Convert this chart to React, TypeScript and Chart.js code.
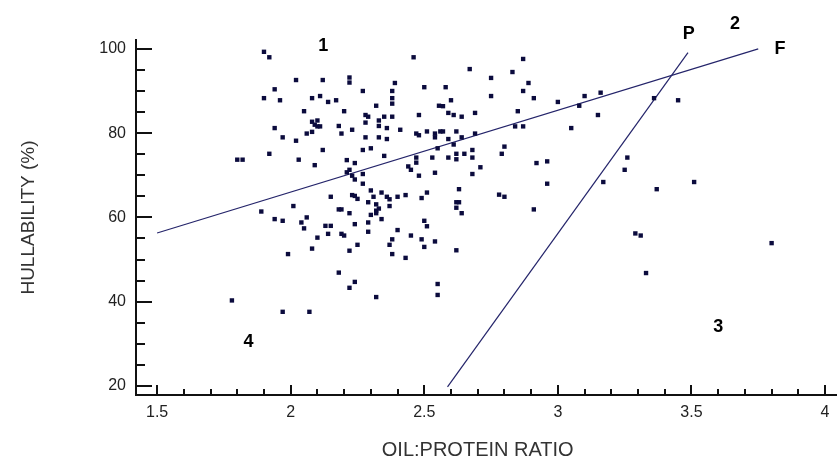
import React, { useEffect, useRef } from "react";
import { Chart, registerables } from "chart.js";

Chart.register(...registerables);

// ---- data ----
const oilProteinRatio: number[] = [
  1.90, 1.92, 2.02, 1.94, 1.90, 1.96, 2.08, 2.11, 2.05, 2.08,
  2.10, 2.09, 2.10, 2.08, 2.11, 1.94, 1.97, 2.06, 2.02, 1.92,
  1.80, 1.82, 2.03, 2.09, 1.89, 2.01, 1.94, 1.97, 2.04, 2.05,
  2.06, 2.10, 1.99, 2.08, 1.78, 1.97, 2.07, 2.46, 2.67, 2.75,
  2.12, 2.22, 2.22, 2.39, 2.27, 2.50, 2.58, 2.38, 2.38, 2.38,
  2.75, 2.14, 2.17, 2.60, 2.32, 2.555, 2.57, 2.20, 2.69, 2.48,
  2.59, 2.61, 2.64, 2.28, 2.29, 2.35, 2.38, 2.28, 2.33, 2.33,
  2.18, 2.19, 2.36, 2.23, 2.41, 2.47, 2.48, 2.51, 2.54, 2.54,
  2.56, 2.57, 2.62, 2.28, 2.33, 2.36, 2.59, 2.64, 2.69, 2.61,
  2.55, 2.12, 2.27, 2.30, 2.68, 2.80, 2.79, 2.35, 2.21, 2.24,
  2.47, 2.53, 2.59, 2.62, 2.62, 2.65, 2.68, 2.44, 2.45, 2.47,
  2.48, 2.54, 2.68, 2.71, 2.21, 2.22, 2.23, 2.24, 2.27, 2.15,
  2.27, 2.23, 2.24, 2.25, 2.30, 2.31, 2.34, 2.36, 2.37, 2.40,
  2.43, 2.29, 2.32, 2.33, 2.32, 2.30, 2.32, 2.34, 2.37, 2.18,
  2.19, 2.22, 2.29, 2.24, 2.13, 2.15, 2.14, 2.19, 2.20, 2.29,
  2.40, 2.51, 2.49, 2.63, 2.62, 2.63, 2.62, 2.64, 2.78, 2.80,
  2.50, 2.51, 2.45, 2.49, 2.54, 2.50, 2.38, 2.37, 2.25, 2.22,
  2.38, 2.43, 2.62, 2.18, 2.24, 2.22, 2.32, 2.55, 2.55,
  2.87, 2.83, 2.89, 2.87, 2.91, 2.85, 2.84, 2.87, 3.00, 3.10,
  3.16, 3.08, 3.15, 3.05, 3.36, 3.45, 2.92, 2.96, 3.26, 3.25,
  2.96, 2.91, 3.17, 3.37, 3.51, 3.29, 3.31, 3.33, 3.80,
];

const hullability: number[] = [
  99.3, 98.0, 92.6, 90.4, 88.3, 87.8, 88.3, 88.8, 85.2, 82.7,
  83.0, 82.0, 81.6, 80.3, 81.6, 81.2, 79.0, 79.9, 78.2, 75.1,
  73.7, 73.7, 73.7, 72.4, 61.4, 62.7, 59.6, 59.2, 58.8, 57.4,
  60.0, 55.2, 51.3, 52.6, 40.3, 37.6, 37.6, 98.0, 95.2, 93.1,
  92.6, 93.2, 92.0, 91.9, 90.0, 90.9, 90.9, 90.0, 88.3, 87.0,
  88.8, 87.4, 87.8, 87.8, 86.5, 86.5, 86.4, 85.2, 84.8, 84.3,
  84.8, 84.3, 83.9, 84.3, 83.9, 83.9, 83.9, 82.5, 83.0, 81.7,
  81.7, 79.9, 81.2, 80.8, 80.8, 79.9, 79.5, 80.4, 79.9, 79.0,
  80.4, 80.4, 80.4, 79.0, 79.0, 78.6, 78.6, 79.0, 79.9, 77.3,
  76.4, 76.0, 76.0, 76.4, 76.0, 76.8, 75.1, 74.6, 73.6, 72.9,
  74.2, 74.2, 74.2, 75.1, 73.8, 75.1, 74.2, 72.1, 71.3, 73.0,
  69.9, 70.6, 70.3, 71.9, 70.7, 71.3, 69.9, 69.0, 70.3, 64.9,
  68.0, 65.3, 65.1, 64.4, 66.4, 64.9, 65.9, 64.9, 64.3, 64.9,
  65.3, 63.6, 63.1, 62.1, 61.6, 60.6, 61.0, 59.6, 62.7, 61.9,
  61.9, 61.0, 58.8, 58.4, 58.0, 58.0, 56.1, 56.1, 55.7, 56.6,
  57.0, 65.9, 64.6, 66.7, 63.6, 63.6, 62.3, 61.0, 65.4, 64.9,
  59.2, 57.9, 55.7, 54.8, 54.3, 53.0, 54.8, 53.5, 53.5, 52.1,
  51.3, 50.4, 52.2, 46.9, 44.7, 43.3, 41.1, 44.2, 41.6,
  97.6, 94.5, 91.9, 90.0, 88.3, 85.2, 81.6, 81.6, 87.4, 88.8,
  89.6, 86.5, 84.3, 81.2, 88.3, 87.8, 72.9, 73.3, 74.2, 71.3,
  68.0, 61.9, 68.4, 66.7, 68.4, 56.2, 55.7, 46.8, 53.9,
];

// boundary lines F and P (end points)
const lineFx: number[] = [1.5, 3.75];
const lineFy: number[] = [56.3, 100];
const linePx: number[] = [2.587, 3.487];
const linePy: number[] = [19.8, 99.1];

// region / line labels
const markLabels: string[] = ["1", "2", "3", "4", "P", "F"];
const markLabelX: number[] = [2.122, 3.663, 3.6, 1.842, 3.49, 3.831];
const markLabelY: number[] = [100.7, 105.9, 34.0, 30.4, 103.4, 100.0];

// axes
const xTickValues: number[] = [1.5, 2, 2.5, 3, 3.5, 4];
const yTickValues: number[] = [20, 40, 60, 80, 100];
const xRange: number[] = [1.421, 4.041];
const yRange: number[] = [17.86, 102.1];
const xTitle = "OIL:PROTEIN RATIO";
const yTitle = "HULLABILITY (%)";

const tickFamily = "'Liberation Sans Narrow', 'Arial Narrow', 'Liberation Sans', Arial, sans-serif";
const titleFamily = "'Liberation Sans', Arial, sans-serif";

const decorPlugin = {
  id: "axisDecor",
  afterDraw(chart: any) {
    const { ctx, chartArea } = chart;
    const xs = chart.scales.x;
    const ys = chart.scales.y;
    const { left, bottom } = chartArea;
    ctx.save();
    ctx.strokeStyle = "#111";
    ctx.lineWidth = 2;
    ctx.beginPath();
    // y ticks: major every 20, minor every 5, pointing inward
    for (let i = 4; i <= 20; i++) {
      const v = i * 5;
      const p = Math.round(ys.getPixelForValue(v));
      const len = v % 20 === 0 ? 16 : 9;
      ctx.moveTo(left, p);
      ctx.lineTo(left + len, p);
    }
    // x ticks: major every 0.5, minor every 0.1
    for (let i = 15; i <= 40; i++) {
      const v = i / 10;
      const p = Math.round(xs.getPixelForValue(v));
      const len = i % 5 === 0 ? 10 : 6;
      ctx.moveTo(p, bottom);
      ctx.lineTo(p, bottom - len);
    }
    ctx.stroke();

    // x axis title, centred where the reference puts it
    ctx.font = "20px " + titleFamily;
    ctx.fillStyle = "#333";
    ctx.textAlign = "center";
    ctx.textBaseline = "middle";
    ctx.fillText(xTitle, xs.getPixelForValue(2.70), 450);

    ctx.font = "bold 18px 'Liberation Sans', Arial, sans-serif";
    ctx.fillStyle = "#000";
    markLabels.forEach((t, i) => {
      ctx.fillText(t, xs.getPixelForValue(markLabelX[i]), ys.getPixelForValue(markLabelY[i]));
    });
    ctx.restore();
  },
};

export default function App() {
  const canvasRef = useRef<HTMLCanvasElement | null>(null);

  useEffect(() => {
    if (!canvasRef.current) return;
    const points = oilProteinRatio.map((x, i) => ({ x, y: hullability[i] }));
    const fLine = lineFx.map((x, i) => ({ x, y: lineFy[i] }));
    const pLine = linePx.map((x, i) => ({ x, y: linePy[i] }));

    const chart = new Chart(canvasRef.current, {
      type: "scatter",
      data: {
        datasets: [
          {
            label: "samples",
            data: points,
            pointStyle: "rect",
            pointRadius: 3.1,
            pointBorderWidth: 0,
            borderWidth: 0,
            backgroundColor: "#0b0b3d",
            borderColor: "#0b0b3d",
          },
          {
            label: "F",
            data: fLine,
            showLine: true,
            pointRadius: 0,
            borderColor: "#24246a",
            borderWidth: 1.2,
          },
          {
            label: "P",
            data: pLine,
            showLine: true,
            pointRadius: 0,
            borderColor: "#24246a",
            borderWidth: 1.2,
          },
        ],
      } as any,
      options: {
        animation: false,
        responsive: false,
        events: [],
        layout: { padding: { top: 40, right: 4, left: 0, bottom: 0 } },
        plugins: {
          legend: { display: false },
          tooltip: { enabled: false },
        },
        scales: {
          x: {
            type: "linear",
            position: "bottom",
            min: xRange[0],
            max: xRange[1],
            afterBuildTicks: (s: any) => {
              s.ticks = xTickValues.map((v) => ({ value: v }));
            },
            afterFit: (s: any) => {
              s.height = 73;
            },
            grid: { display: false, drawTicks: false },
            border: { display: true, color: "#111", width: 2 },
            ticks: {
              autoSkip: false,
              maxRotation: 0,
              padding: 8,
              color: "#222",
              font: { family: tickFamily, size: 16 },
              callback: (v: any) => String(v),
            },
            title: { display: false, text: xTitle },
          },
          y: {
            type: "linear",
            position: "left",
            min: yRange[0],
            max: yRange[1],
            afterBuildTicks: (s: any) => {
              s.ticks = yTickValues.map((v) => ({ value: v }));
            },
            afterFit: (s: any) => {
              s.width = 136;
            },
            grid: { display: false, drawTicks: false },
            border: { display: true, color: "#111", width: 2 },
            ticks: {
              autoSkip: false,
              padding: 10,
              color: "#222",
              font: { family: tickFamily, size: 16 },
              callback: (v: any) => String(v),
            },
            title: {
              display: true,
              text: yTitle,
              color: "#333",
              font: { family: titleFamily, size: 19 },
              padding: { top: 17, bottom: 0 },
            },
          },
        },
      } as any,
      plugins: [decorPlugin],
    });
    return () => chart.destroy();
  }, []);

  return (
    <div style={{ position: "fixed", left: 0, top: 0, width: 840, height: 468, background: "#fff" }}>
      <canvas ref={canvasRef} width={840} height={468} style={{ display: "block" }} />
    </div>
  );
}
